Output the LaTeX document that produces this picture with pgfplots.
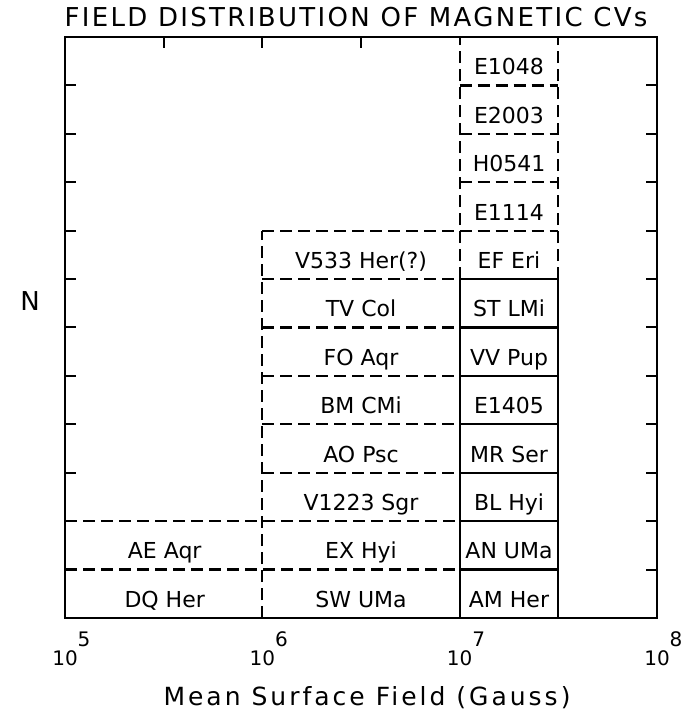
\documentclass[border=0pt]{standalone}
\usepackage{fontspec}
\setmainfont{DejaVu Sans}
\newfontfamily\spacedfont{DejaVu Sans}[LetterSpace=9]
\newfontfamily\xlabfont{DejaVu Sans}[LetterSpace=12]
\usepackage{pgfplots}
\usepackage{pgfplotstable}
\pgfplotsset{compat=1.18}

\pgfplotstableread[col sep=comma]{
x,y,label
3.2e5,0.22,DQ Her
3.2e5,1.22,AE Aqr
3.1623e6,0.22,SW UMa
3.1623e6,1.22,EX Hyi
3.1623e6,2.22,V1223 Sgr
3.1623e6,3.22,AO Psc
3.1623e6,4.22,BM CMi
3.1623e6,5.22,FO Aqr
3.1623e6,6.22,TV Col
3.1623e6,7.22,V533 Her(?)
1.7783e7,0.22,AM Her
1.7783e7,1.22,AN UMa
1.7783e7,2.22,BL Hyi
1.7783e7,3.22,MR Ser
1.7783e7,4.22,E1405
1.7783e7,5.22,VV Pup
1.7783e7,6.22,ST LMi
1.7783e7,7.22,EF Eri
1.7783e7,8.22,E1114
1.7783e7,9.22,H0541
1.7783e7,10.22,E2003
1.7783e7,11.22,E1048
}\labels

\tikzset{
  solidbox/.style={black, line width=2.2bp, solid, mark=none},
  dashbox/.style={black, line width=2.2bp, dash pattern=on 12bp off 6bp, mark=none},
}

\begin{document}
\begin{tikzpicture}
\begin{axis}[
  name=main,
  scale only axis, width=592bp, height=581bp,
  xmode=log, xmin=1e5, xmax=1e8, ymin=0, ymax=12,
  xtick={1e5,1e6,1e7,1e8},
  xticklabels={10\rlap{\raisebox{19bp}{5}},10\rlap{\raisebox{19bp}{6}},10\rlap{\raisebox{19bp}{7}},10\rlap{\raisebox{19bp}{8}}},
  xtick pos=bottom,
  xminorticks=false, yminorticks=false,
  ytick={1,...,11}, yticklabels={}, ytick pos=both,
  tick align=inside, major tick length=11bp,
  axis line style={line width=2.2bp},
  every tick/.style={black, line width=2bp},
  xticklabel style={anchor=base, yshift=-47bp, font=\fontsize{20bp}{22bp}\selectfont, inner sep=0pt},
  title={FIELD DISTRIBUTION OF MAGNETIC CVs},
  every axis title/.style={at={(rel axis cs:0.5,1)}, anchor=base, yshift=10bp, xshift=-5bp, font=\spacedfont\fontsize{26bp}{30bp}\selectfont, inner sep=0pt},
  xlabel={Mean Surface Field (Gauss)},
  every axis x label/.style={at={(rel axis cs:0.5,0)}, anchor=base, yshift=-87bp, xshift=6bp, font=\xlabfont\fontsize{25bp}{28bp}\selectfont, inner sep=0pt},
  ylabel={N},
  every axis y label/.style={at={(rel axis cs:0,0.545)}, anchor=center, xshift=-35bp, font=\fontsize{26bp}{30bp}\selectfont},
  clip=false,
]
% solid boxes (right column, rows 0-7)
\addplot[solidbox] coordinates {(1e7,0) (1e7,7)};
\addplot[solidbox] coordinates {(3.1623e7,0) (3.1623e7,7)};
\addplot[solidbox] coordinates {(1e7,1) (3.1623e7,1)};
\addplot[solidbox] coordinates {(1e7,2) (3.1623e7,2)};
\addplot[solidbox] coordinates {(1e7,3) (3.1623e7,3)};
\addplot[solidbox] coordinates {(1e7,4) (3.1623e7,4)};
\addplot[solidbox] coordinates {(1e7,5) (3.1623e7,5)};
\addplot[solidbox] coordinates {(1e7,6) (3.1623e7,6)};
\addplot[solidbox] coordinates {(1e7,7) (3.1623e7,7)};
% dashed boxes (right column, rows 7-12)
\addplot[dashbox] coordinates {(1e7,7) (1e7,12)};
\addplot[dashbox] coordinates {(3.1623e7,7) (3.1623e7,12)};
\addplot[dashbox] coordinates {(1e7,8) (3.1623e7,8)};
\addplot[dashbox] coordinates {(1e7,9) (3.1623e7,9)};
\addplot[dashbox] coordinates {(1e7,10) (3.1623e7,10)};
\addplot[dashbox] coordinates {(1e7,11) (3.1623e7,11)};
% middle and left columns
\addplot[dashbox] coordinates {(1e6,0) (1e6,8)};
\addplot[dashbox] coordinates {(1e5,1) (1e7,1)};
\addplot[dashbox] coordinates {(1e5,2) (1e7,2)};
\addplot[dashbox] coordinates {(1e6,3) (1e7,3)};
\addplot[dashbox] coordinates {(1e6,4) (1e7,4)};
\addplot[dashbox] coordinates {(1e6,5) (1e7,5)};
\addplot[dashbox] coordinates {(1e6,6) (1e7,6)};
\addplot[dashbox] coordinates {(1e6,7) (1e7,7)};
\addplot[dashbox] coordinates {(1e6,8) (1e7,8)};
% labels
\addplot[only marks, mark=none, point meta=explicit symbolic,
  nodes near coords,
  every node near coord/.append style={anchor=base, inner sep=0pt, font=\fontsize{22bp}{25bp}\selectfont}]
  table[x=x, y=y, meta=label] {\labels};
\end{axis}
\begin{axis}[
  scale only axis, width=592bp, height=581bp,
  xmode=log, xmin=1e5, xmax=1e8, ymin=0, ymax=12,
  xtick={3.1623e5,1e6,3.1623e6}, xticklabels={}, xtick pos=top,
  xminorticks=false, yminorticks=false, ytick=\empty,
  tick align=inside, major tick length=11bp,
  axis line style={line width=2.2bp},
  every tick/.style={black, line width=2bp},
]
\end{axis}
\pgfresetboundingbox
\useasboundingbox ([shift={(-65bp,-96bp)}]main.south west) rectangle ([shift={(29bp,37bp)}]main.north east);
\end{tikzpicture}
\end{document}
